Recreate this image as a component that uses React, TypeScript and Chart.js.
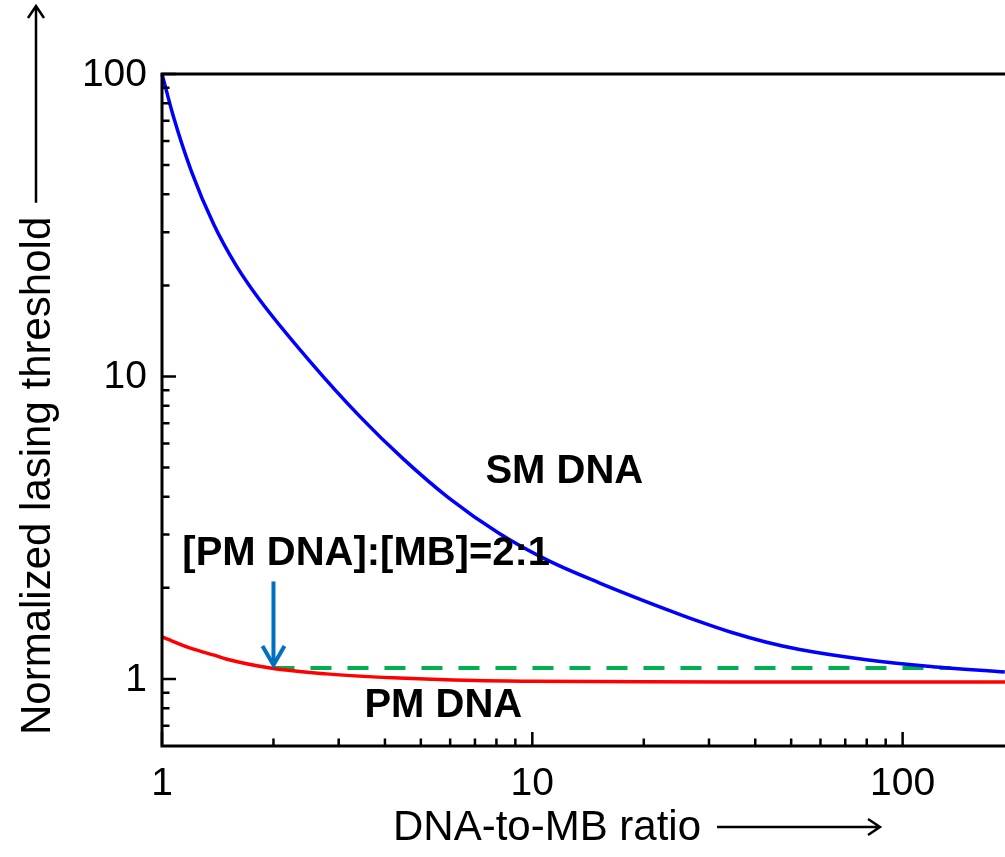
import React, { useEffect, useRef } from "react";
import { Chart, registerables } from "chart.js";
Chart.register(...registerables);

// SM DNA (blue) curve
const smX = [1, 1.072, 1.202, 1.38, 1.585, 1.837, 2.512, 3.42, 4.467, 5.957, 8.128, 11.09, 15.21, 23.01, 28.18, 34.43, 42.66, 52.72, 78.89, 119.1, 188.8];
const smY = [100, 72.8, 47.5, 31.8, 23.3, 17.9, 11.2, 7.38, 5.36, 3.96, 3.03, 2.455, 2.075, 1.698, 1.549, 1.426, 1.324, 1.25, 1.159, 1.099, 1.054];
// PM DNA (red) curve
const pmX = [1, 1.21, 1.41, 1.49, 1.96, 2.78, 4.2, 7.03, 10, 20, 50, 189];
const pmY = [1.377, 1.256, 1.19, 1.164, 1.087, 1.039, 1.008, 0.987, 0.982, 0.978, 0.977, 0.976];
// green dashed reference
const refX = [2, 135];
const refY = [1.087, 1.087];

const xMin = 1;
const xMax = 189;
const yMin = 0.6;
const yMax = 100;
const xMajor = [1, 10, 100];
const xMinor = [2, 3, 4, 5, 6, 7, 8, 9, 20, 30, 40, 50, 60, 70, 80, 90];
const yMajor = [1, 10, 100];
const yMinor = [0.7, 0.8, 0.9, 2, 3, 4, 5, 6, 7, 8, 9, 20, 30, 40, 50, 60, 70, 80, 90];
const xTickLabels = ["1", "10", "100"];
const yTickLabels = ["1", "10", "100"];

const xTitle = "DNA-to-MB ratio";
const yTitle = "Normalized lasing threshold";
const labelSM = "SM DNA";
const labelPM = "PM DNA";
const labelRatio = "[PM DNA]:[MB]=2:1";

const FONT = "'Liberation Sans', Arial, sans-serif";

const pts = (xs: number[], ys: number[]) => xs.map((x, i) => ({ x, y: ys[i] }));

const decorPlugin = {
  id: "decor",
  afterDatasetsDraw(chart: any) {
    const ctx = chart.ctx as CanvasRenderingContext2D;
    const xs = chart.scales.x;
    const ys = chart.scales.y;
    const a = chart.chartArea;
    ctx.save();
    ctx.strokeStyle = "#000";
    ctx.lineWidth = 3;
    ctx.lineCap = "butt";
    // axes lines
    ctx.beginPath();
    ctx.moveTo(a.left, a.top);
    ctx.lineTo(a.right, a.top);
    ctx.moveTo(a.left, a.top - 1.5);
    ctx.lineTo(a.left, a.bottom + 1.5);
    ctx.moveTo(a.left - 1.5, a.bottom);
    ctx.lineTo(a.right, a.bottom);
    ctx.stroke();
    // inside ticks
    ctx.lineWidth = 2.5;
    ctx.beginPath();
    xMajor.forEach((v) => {
      const p = xs.getPixelForValue(v);
      ctx.moveTo(p, a.bottom);
      ctx.lineTo(p, a.bottom - 14);
    });
    xMinor.forEach((v) => {
      const p = xs.getPixelForValue(v);
      ctx.moveTo(p, a.bottom);
      ctx.lineTo(p, a.bottom - 7.5);
    });
    yMajor.forEach((v) => {
      const p = ys.getPixelForValue(v);
      ctx.moveTo(a.left, p);
      ctx.lineTo(a.left + 14, p);
    });
    yMinor.forEach((v) => {
      const p = ys.getPixelForValue(v);
      ctx.moveTo(a.left, p);
      ctx.lineTo(a.left + 7.5, p);
    });
    ctx.stroke();

    // tick labels
    ctx.fillStyle = "#000";
    ctx.font = `39px ${FONT}`;
    ctx.textAlign = "center";
    ctx.textBaseline = "alphabetic";
    xMajor.forEach((v, i) => {
      ctx.fillText(xTickLabels[i], xs.getPixelForValue(v), a.bottom + 49);
    });
    ctx.textAlign = "right";
    ctx.textBaseline = "middle";
    yMajor.forEach((v, i) => {
      ctx.fillText(yTickLabels[i], a.left - 15, ys.getPixelForValue(v) + 1);
    });

    // axis titles
    ctx.font = `42px ${FONT}`;
    ctx.textAlign = "left";
    ctx.textBaseline = "alphabetic";
    const tx = 393;
    ctx.fillText(xTitle, tx, 840);
    const tw = ctx.measureText(xTitle).width;
    const ax0 = tx + tw + 16;
    const ax1 = 880;
    ctx.lineWidth = 2.5;
    ctx.beginPath();
    ctx.moveTo(ax0, 827);
    ctx.lineTo(ax1, 827);
    ctx.moveTo(ax1 - 12, 819);
    ctx.lineTo(ax1, 827);
    ctx.lineTo(ax1 - 12, 835);
    ctx.stroke();

    ctx.save();
    ctx.translate(50, 735);
    ctx.rotate(-Math.PI / 2);
    ctx.textAlign = "left";
    ctx.fillText(yTitle, 0, 0);
    const yw = ctx.measureText(yTitle).width;
    ctx.restore();
    const ay0 = 735 - yw - 14;
    const ay1 = 6;
    ctx.beginPath();
    ctx.moveTo(36, ay0);
    ctx.lineTo(36, ay1);
    ctx.moveTo(28, ay1 + 12);
    ctx.lineTo(36, ay1);
    ctx.lineTo(44, ay1 + 12);
    ctx.stroke();

    // annotations
    ctx.font = `bold 40px ${FONT}`;
    ctx.textAlign = "center";
    ctx.textBaseline = "middle";
    ctx.fillText(labelSM, xs.getPixelForValue(12.2), ys.getPixelForValue(4.85));
    ctx.fillText(labelPM, xs.getPixelForValue(5.75), ys.getPixelForValue(0.815));
    ctx.fillText(labelRatio, xs.getPixelForValue(3.56), ys.getPixelForValue(2.585));

    // blue arrow pointing at 2:1
    const axp = xs.getPixelForValue(refX[0]);
    const yTail = ys.getPixelForValue(2.1);
    const yTip = ys.getPixelForValue(refY[0]) - 1;
    ctx.strokeStyle = "#0070C0";
    ctx.lineWidth = 4;
    ctx.beginPath();
    ctx.moveTo(axp, yTail);
    ctx.lineTo(axp, yTip - 2);
    ctx.stroke();
    ctx.lineJoin = "miter";
    ctx.beginPath();
    ctx.moveTo(axp - 11, yTip - 21);
    ctx.lineTo(axp, yTip - 2);
    ctx.lineTo(axp + 11, yTip - 21);
    ctx.stroke();
    ctx.restore();
  },
};

export default function App() {
  const ref = useRef<HTMLCanvasElement | null>(null);
  useEffect(() => {
    if (!ref.current) return;
    const chart = new Chart(ref.current, {
      type: "line",
      data: {
        datasets: [
          {
            label: "SM DNA",
            data: pts(smX, smY),
            borderColor: "#0000FF",
            borderWidth: 3.5,
            pointRadius: 0,
            cubicInterpolationMode: "monotone",
            fill: false,
          },
          {
            label: "PM DNA",
            data: pts(pmX, pmY),
            borderColor: "#FF0000",
            borderWidth: 3.5,
            pointRadius: 0,
            cubicInterpolationMode: "monotone",
            fill: false,
          },
          {
            label: "2:1",
            data: pts(refX, refY),
            borderColor: "#00B050",
            borderWidth: 4,
            borderDash: [21, 16],
            pointRadius: 0,
            fill: false,
          },
        ],
      },
      options: {
        animation: false,
        responsive: false,
        clip: false,
        layout: { padding: { left: 162, top: 74, right: 0, bottom: 111 } },
        plugins: { legend: { display: false }, tooltip: { enabled: false } },
        scales: {
          x: { type: "logarithmic", min: xMin, max: xMax, display: false },
          y: { type: "logarithmic", min: yMin, max: yMax, display: false },
        },
      },
      plugins: [decorPlugin],
    } as any);
    return () => chart.destroy();
  }, []);
  return (
    <div style={{ position: "fixed", left: 0, top: 0, width: 1005, height: 857, background: "#fff" }}>
      <canvas ref={ref} width={1005} height={857} style={{ display: "block" }} />
    </div>
  );
}
